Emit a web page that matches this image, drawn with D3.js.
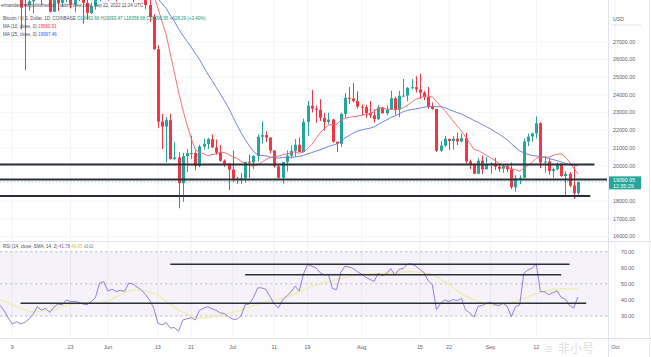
<!DOCTYPE html>
<html><head><meta charset="utf-8">
<script src="https://cdn.jsdelivr.net/npm/d3@7"></script>
<style>
html,body{margin:0;padding:0;background:#fff;}
svg{display:block;font-family:"Liberation Sans",Arial,sans-serif;}
</style></head><body>
<svg id="c" width="651" height="357"></svg>
<script>
// ---------- DATA ----------
const startDate = "2022-05-06"; // one candle per day from here
const open = [36550,36010,35470,34060,30080,31010,29120,29050,29290,30100,31300,29850,30430,28700,30300,29200,29430,30300,29100,29650,29540,29200,28630,29030,29470,31730,
31790,29800,30450,29700,29860,29910,31370,31130,30200,30110,29080,28400,26580,22490,22210,22570,20380,20470,19020,20550,20710,20720,19990,21090,21230,21500,21030,20740,20280,20120,
19790,19270,19240,19300,20230,20190,20550,21640,21730,21590,20860,19970,19320,20210,20570,20840,21190,20780,22480,23390,23230,23160,22710,22470,22610,21360,21240,22930,23840,23800,23660,
23340,23310,22980,22850,22630,23290,22960,23180,23810,23160,23950,23960,24400,24440,24310,24130,23880,23340,23210,20850,21140,21520,21400,21530,21370,21560,20250,20040,19550,20290,19800,
20050,20130,19950,19830,19990,19800,18790,19290,19320,21370,21650,21830,22400,20180,20240,19700,19800,20110,19420,19540,18880,18463];
const high = [36650,36130,35500,34240,32660,32170,30140,31080,30330,31440,31320,30780,30670,30530,30770,29620,30440,30650,29810,30180,29840,29360,29200,29520,32200,32400,
31960,30660,30680,29960,30170,31760,31550,31330,30700,30340,29450,28560,26800,22930,22750,22930,21330,20760,20730,20960,21690,20860,21190,21520,21580,21780,21480,21160,20360,20140,
20870,19370,19600,20200,20630,20600,21770,22500,21950,21600,20860,20040,20220,20860,21140,21510,21600,22660,23670,24280,23390,23760,22980,23000,22650,21360,23000,24110,24440,24670,24200,
23460,23440,23650,23200,23430,23310,23400,24240,23900,24230,24900,24450,24890,25050,25200,24230,24450,23580,23210,21380,21690,21520,21680,21870,21820,21870,20350,20140,20420,20580,20490,
20200,20450,20050,20040,20060,20180,19460,19460,21550,21820,21860,22790,22480,20560,20390,19900,20190,20110,19690,19640,19960,19093];
const low = [35260,34790,33710,30030,29730,27700,25400,28750,28600,29490,29090,29450,28650,28680,28740,28960,29240,28880,28660,29300,28020,28250,28570,28820,29300,31220,
29320,29600,29280,29480,29520,29890,29230,29860,29970,28860,28110,26560,22140,20950,20180,20360,20300,17600,17960,19650,20370,19750,19920,20910,20950,21020,20620,20230,19940,18630,
19070,18980,18970,19040,19300,19820,20250,21260,21350,20700,19900,19290,18990,19670,20400,20520,20780,20760,21680,23010,22430,22530,21980,22340,21290,20780,21070,22720,23480,23580,23230,
22850,22710,22700,22440,22590,22950,22860,23160,22880,22740,23910,23640,24320,24140,23780,23710,23220,23160,20780,20780,21070,20890,20910,21170,21320,20120,19820,19540,19540,19540,19800,
19570,19760,19660,19600,19640,18680,18540,18960,19300,21110,21370,21550,19860,19620,19500,19320,19740,19370,18260,18780,18140,18359];
const close = [36010,35470,34060,30080,31010,28930,29050,29290,30100,31300,29850,30430,28700,30300,29200,29430,30300,29100,29650,29540,29200,28630,29030,29470,31730,31790,
29800,30450,29700,29860,29910,31370,31130,30200,30110,29080,28400,26580,22490,22210,22570,20380,20470,19020,20550,20710,20720,19990,21090,21230,21500,21030,20740,20280,20120,19790,
19270,19240,19300,20230,20190,20550,21640,21730,21590,20860,19970,19320,20210,20570,20840,21190,20780,22480,23390,23230,23160,22710,22470,22610,21360,21240,22930,23840,23800,23660,23340,
23310,22980,22850,22630,23290,22960,23180,23810,23160,23950,23960,24400,24440,24310,24130,23880,23340,23210,20850,21140,21520,21400,21530,21370,21560,20250,20040,19550,20290,19800,20050,
20130,19950,19830,19990,19800,18790,19290,19320,21370,21650,21830,22400,20180,20240,19700,19800,20110,19420,19540,18880,18463,19091];
const rsi = [36.8,33.5,29,25,26.4,25.2,26,28,31,35.8,33.7,34.8,32.2,35.5,37.5,37,40,39,39,38.5,37.5,37,39,41.5,50.5,51.3,
45.5,46.7,45.2,46,45.3,50.5,50,48,46.3,43.5,40,35,25.5,24.5,26,22.5,22.8,20.5,27.5,28.3,29,27.5,33.5,34.8,35.8,34.5,33.5,32,31.5,29.5,
28,28,30,37,37.5,41.5,47.5,47.5,46.5,42,37.5,35,40,42.5,45,48.5,45.5,56,62,61,60,57,55.5,56,47,46.5,57,61,60.5,59.5,57.5,
56,54,52.8,51.5,56.6,55,56.5,59.5,55.5,59,59.5,62.3,62.5,61,59,57,52,49.5,34,37.9,40,39,40.2,39.5,41,33.7,32,29.2,36,36.5,37.9,
38.5,37,36.5,37.9,36,29.6,35.8,36.8,56.6,58.6,59.8,62.3,45.1,45.1,43.3,44.5,45.7,41.5,40.5,36.5,35,41.8];
// RSI-based MA (yellow)
const rsiMaDates = ["2022-05-06","2022-05-10","2022-05-14","2022-05-18","2022-05-22","2022-05-26","2022-05-30","2022-06-03","2022-06-07","2022-06-10","2022-06-13","2022-06-15","2022-06-19","2022-06-23","2022-06-27","2022-07-01","2022-07-05","2022-07-09","2022-07-13","2022-07-17","2022-07-21","2022-07-24","2022-07-28","2022-08-01","2022-08-05","2022-08-09","2022-08-13","2022-08-17","2022-08-21","2022-08-25","2022-08-29","2022-09-02","2022-09-06","2022-09-10","2022-09-14","2022-09-18","2022-09-22"];
const rsiMaValues = [40,36,32.7,33.5,36.5,37.9,38,42,46,45.5,43,39,32.5,28.6,29.8,32.2,35.5,38.9,41,45,49.3,51.5,54,56,56.5,57,57.6,56.6,51.3,44,39,36.8,38.5,42,45.5,47,46.8];
const priceTicks = [27000,26000,25000,24000,23000,22000,21000,20000,18000,17000,16000];
const rsiTicks = [70,60,50,40,30];
const rsiBands = [70,50,30];
const timeTickDates = ["2022-05-09","2022-05-23","2022-06-01","2022-06-13","2022-06-21","2022-07-01","2022-07-11","2022-07-19","2022-08-01","2022-08-15","2022-08-22","2022-09-01","2022-09-12","2022-10-01"];
const timeTickLabels = ["9","23","Jun","13","21","Jul","11","19","Aug","15","22","Sep","12","Oct"];
// drawn horizontal levels
const priceLevels = [20072, 19225, 18293];
const priceLevelStart = ["2022-05-06","2022-05-06","2022-05-06"];
const priceLevelEnd = ["2022-09-26","2022-09-29","2022-09-25"];
const rsiLevels = [62.2, 55.7, 37.9];
const rsiLevelStart = ["2022-06-16","2022-07-04","2022-05-11"];
const rsiLevelEnd = ["2022-09-20","2022-09-18","2022-09-24"];
const lastPrice = 19090.95;

// ---------- CHART ----------
const W = 651, H = 357;
const paneR = 608, mainTop = 0, mainBot = 241, rsiTop = 242, rsiBot = 338;
const svg = d3.select("#c");
const parse = d3.utcParse("%Y-%m-%d");
const dates = d3.utcDay.range(parse(startDate), d3.utcDay.offset(parse(startDate), close.length));

const x = d3.scaleUtc().domain([parse("2022-05-06"), parse("2022-10-01")]).range([-0.2, 615.3]);
const y = d3.scaleLinear().domain([16000, 27000]).range([236.6, 41.8]);
const yr = d3.scaleLinear().domain([30, 70]).range([316, 251.7]);

const UP = "#26a69a", DN = "#f23645";

const defs = svg.append("defs");
defs.append("clipPath").attr("id","cm").append("rect").attr("x",0).attr("y",mainTop).attr("width",paneR).attr("height",mainBot-mainTop);
defs.append("clipPath").attr("id","cr").append("rect").attr("x",0).attr("y",rsiTop).attr("width",paneR).attr("height",rsiBot-rsiTop);

svg.append("rect").attr("width",W).attr("height",H).attr("fill","#fff");

// grid
const grid = svg.append("g");
grid.selectAll("line.vg").data(timeTickDates).join("line")
  .attr("x1",d=>x(parse(d))).attr("x2",d=>x(parse(d))).attr("y1",0).attr("y2",rsiBot)
  .attr("stroke","#f0f1f4").attr("stroke-width",0.8);
grid.selectAll("line.hg").data(priceTicks).join("line")
  .attr("x1",0).attr("x2",paneR).attr("y1",d=>y(d)).attr("y2",d=>y(d))
  .attr("stroke","#f3f4f6").attr("stroke-width",0.8);

// main pane
const gm = svg.append("g").attr("clip-path","url(#cm)");
const idx = d3.range(close.length);
gm.selectAll("line.wick").data(idx).join("line")
  .attr("x1",i=>Math.round(x(dates[i]))+0.5).attr("x2",i=>Math.round(x(dates[i]))+0.5)
  .attr("y1",i=>y(high[i])).attr("y2",i=>y(low[i]))
  .attr("stroke",i=>close[i]>=open[i]?UP:DN).attr("stroke-width",1);
gm.selectAll("rect.body").data(idx).join("rect")
  .attr("x",i=>Math.round(x(dates[i]))-1).attr("width",3)
  .attr("y",i=>y(Math.max(open[i],close[i])))
  .attr("height",i=>Math.max(1,Math.abs(y(open[i])-y(close[i]))))
  .attr("fill",i=>close[i]>=open[i]?UP:DN);

function sma(n){ return idx.map(i=> i<n-1?null:d3.mean(close.slice(i-n+1,i+1))); }
const ma10 = sma(10), ma25 = sma(25);
const lineMain = d3.line().defined(d=>d[1]!=null).x(d=>x(d[0])).y(d=>y(d[1]));
gm.append("path").attr("d",lineMain(dates.map((d,i)=>[d,ma25[i]])))
  .attr("fill","none").attr("stroke","#6274dd").attr("stroke-width",0.9);
gm.append("path").attr("d",lineMain(dates.map((d,i)=>[d,ma10[i]])))
  .attr("fill","none").attr("stroke","#f2606b").attr("stroke-width",0.9);

// last price line
gm.append("line").attr("x1",0).attr("x2",paneR).attr("y1",y(lastPrice)).attr("y2",y(lastPrice))
  .attr("stroke",UP).attr("stroke-width",0.7).attr("stroke-dasharray","1.5,2").attr("opacity",0.7);

// horizontal levels
gm.selectAll("line.lvl").data(priceLevels).join("line")
  .attr("x1",(d,i)=>x(parse(priceLevelStart[i]))).attr("x2",(d,i)=>x(parse(priceLevelEnd[i])))
  .attr("y1",d=>y(d)).attr("y2",d=>y(d))
  .attr("stroke","#2a2e39").attr("stroke-width",1.8);

// RSI pane
const gr = svg.append("g").attr("clip-path","url(#cr)");
gr.append("rect").attr("x",0).attr("width",paneR).attr("y",yr(70)).attr("height",yr(30)-yr(70))
  .attr("fill","#7e57c2").attr("fill-opacity",0.08);
gr.selectAll("line.band").data(rsiBands).join("line")
  .attr("x1",0).attr("x2",paneR).attr("y1",d=>yr(d)).attr("y2",d=>yr(d))
  .attr("stroke","#9598a1").attr("stroke-width",0.7).attr("stroke-dasharray","2.5,2.5").attr("opacity",0.8);
gr.append("path").attr("d",d3.line().curve(d3.curveMonotoneX).x((d,i)=>x(parse(d))).y((d,i)=>yr(rsiMaValues[i]))(rsiMaDates))
  .attr("fill","none").attr("stroke","#ecec9c").attr("stroke-width",1.5).attr("opacity",0.75);
gr.append("path").attr("d",d3.line().x((d,i)=>x(d)).y((d,i)=>yr(rsi[i]))(dates))
  .attr("fill","none").attr("stroke","#8a6fd0").attr("stroke-width",0.9);
gr.selectAll("line.rl").data(rsiLevels).join("line")
  .attr("x1",(d,i)=>x(parse(rsiLevelStart[i]))).attr("x2",(d,i)=>x(parse(rsiLevelEnd[i])))
  .attr("y1",d=>yr(d)).attr("y2",d=>yr(d))
  .attr("stroke","#2a2e39").attr("stroke-width",1.6);

// separators
svg.append("line").attr("x1",0).attr("x2",W).attr("y1",241.5).attr("y2",241.5).attr("stroke","#e0e3eb");
svg.append("line").attr("x1",0).attr("x2",W).attr("y1",rsiBot+0.5).attr("y2",rsiBot+0.5).attr("stroke","#e0e3eb");
svg.append("line").attr("x1",paneR+0.5).attr("x2",paneR+0.5).attr("y1",0).attr("y2",H).attr("stroke","#e0e3eb");
svg.append("line").attr("x1",W-1.5).attr("x2",W-1.5).attr("y1",0).attr("y2",H).attr("stroke","#eceef2");

// price axis
const ax = svg.append("g").attr("font-size",5.3).attr("fill","#5d606b");
ax.append("text").attr("x",613).attr("y",19).attr("dy","0.35em").text("USD");
ax.append("line").attr("x1",612).attr("x2",641).attr("y1",25).attr("y2",25).attr("stroke","#e0e3eb");
ax.selectAll("text.pt").data(priceTicks).join("text")
  .attr("x",613).attr("y",d=>y(d)).attr("dy","0.35em").text(d=>d3.format(".2f")(d));
ax.selectAll("text.rt").data(rsiTicks).join("text")
  .attr("x",621).attr("y",d=>yr(d)).attr("dy","0.35em").text(d=>d3.format(".2f")(d));
// last price label
const ly = y(lastPrice);
svg.append("rect").attr("x",609).attr("y",ly-5.5).attr("width",32).attr("height",13).attr("fill",UP);
svg.append("text").attr("x",613).attr("y",ly-1.5).attr("dy","0.35em").attr("font-size",5.3).attr("fill","#fff").text("19090.95");
svg.append("text").attr("x",613).attr("y",ly+4).attr("dy","0.35em").attr("font-size",5.3).attr("fill","#fff").text("12:35:29");

// time axis
svg.append("g").attr("font-size",5.3).attr("fill","#5d606b").attr("text-anchor","middle")
  .selectAll("text").data(timeTickDates).join("text")
  .attr("x",d=>x(parse(d))).attr("y",347).attr("dy","0.35em").text((d,i)=>timeTickLabels[i]);

// header texts
const hd = svg.append("g").attr("font-size",4.5).attr("fill","#4a4d57");
hd.append("text").attr("x",1).attr("y",7).text("elmandambeli published on TradingView.com, Sep 22, 2022 11:24 UTC");
const t2 = hd.append("text").attr("x",3).attr("y",19.5);
t2.append("tspan").text("Bitcoin / U.S. Dollar, 1D, COINBASE ");
t2.append("tspan").attr("fill","#089981").text("O18462.66 H19093.47 L18358.68 C19090.95 +628.29 (+3.40%)");
const t3 = hd.append("text").attr("x",3).attr("y",28);
t3.append("tspan").text("MA (10, close, 0) ");
t3.append("tspan").attr("fill","#f23645").text("19560.91");
const t4 = hd.append("text").attr("x",3).attr("y",36);
t4.append("tspan").text("MA (25, close, 0) ");
t4.append("tspan").attr("fill","#2962ff").text("19997.46");
const t5 = hd.append("text").attr("x",3).attr("y",248);
t5.append("tspan").text("RSI (14, close, SMA, 14, 2) ");
t5.append("tspan").attr("fill","#7e57c2").text("41.78");
t5.append("tspan").text(" ");
t5.append("tspan").attr("fill","#d4c840").text("46.85");
t5.append("tspan").text(" ∅ ∅");

// watermark
const wm = svg.append("g").attr("opacity",0.45);
wm.append("text").attr("x",545).attr("y",353).attr("font-size",12).attr("fill","#b8b8b8").text("≡");
wm.append("text").attr("x",558).attr("y",353).attr("font-family","Noto Sans CJK SC").attr("font-size",12).attr("fill","#b8b8b8").text("非小号");
</script>
</body></html>
